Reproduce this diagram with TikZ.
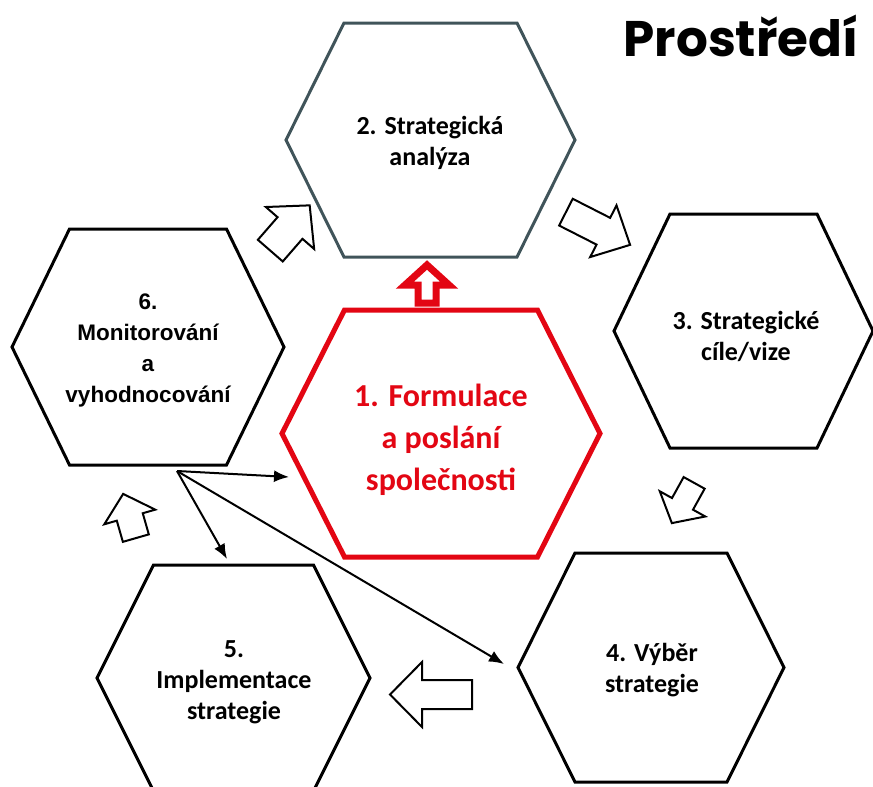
\documentclass[tikz,border=0pt]{standalone}
\usepackage{fontspec}
\setmainfont{Carlito}
\newfontfamily\arialfont{Liberation Sans}
\newfontfamily\prostfont{Poppins}
\usetikzlibrary{arrows.meta}
\definecolor{slate}{RGB}{64,84,90}
\definecolor{cred}{RGB}{227,6,19}
\tikzset{
    pics/hexa/.style n args={3}{code={
        \draw[pic actions] (-#1,0) -- (-#2,-#3) -- (#2,-#3) -- (#1,0) -- (#2,#3) -- (-#2,#3) -- cycle;
    }},
    pics/barrow/.style n args={4}{code={
        \draw[pic actions] ({-#1/2},{-#3/2}) -- ({#1/2-#4},{-#3/2}) -- ({#1/2-#4},{-#2/2})
            -- ({#1/2},0) -- ({#1/2-#4},{#2/2}) -- ({#1/2-#4},{#3/2}) -- ({-#1/2},{#3/2}) -- cycle;
    }},
    hexline/.style={draw=black, line width=3pt, line join=miter, fill=white},
    hexred/.style={draw=cred, line width=5pt, line join=miter, fill=white},
    blockarr/.style={draw=black, line width=2pt, fill=white, line join=miter},
    lbl/.style={font=\bfseries\fontsize{26}{31}\selectfont, align=center, inner sep=0pt},
    thin/.style={line width=2pt, -{Latex[length=15pt,width=12pt]}}
}
\begin{document}
\begin{tikzpicture}[x=1pt,y=-1pt]
    \useasboundingbox (0,0) rectangle (873,787);
    \clip (0,0) rectangle (873,787);

    % hexagons
    \pic[hexline, draw=slate] at (430.5,140) {hexa={144.5}{86.5}{117}};
    \pic[hexline] at (743.5,331) {hexa={129.5}{73.5}{117}};
    \pic[hexline] at (651,667.5) {hexa={133}{76}{114.5}};
    \pic[hexline] at (233.5,678) {hexa={136.5}{80}{113}};
    \pic[hexline] at (148,347) {hexa={136}{78.5}{118}};
    \pic[hexred] at (441,433.5) {hexa={159}{96.5}{123.5}};

    \node[lbl] (h2) at (430,143) {2. Strategická\\analýza};
    \node[lbl] (h3) at (746,336) {3. Strategické\\cíle/vize};
    \node[lbl] (h4) at (652,670) {4. Výběr\\strategie};
    \node[lbl] (h5) at (234,682) {5.\\Implementace\\strategie};
    \node[lbl, font=\arialfont\bfseries\fontsize{22.5}{31}\selectfont] (h6) at (148,350)
        {6.\\Monitorování\\a\\vyhodnocování};
    \node[lbl, text=cred, font=\bfseries\fontsize{32}{42}\selectfont] (h1) at (441,440)
        {1. Formulace\\a poslání\\společnosti};
    \node[inner sep=0pt, font=\prostfont\bfseries\fontsize{50}{55}\selectfont] (env) at (741,36) {Prostředí};

    % block arrows
    \pic[blockarr, rotate=49] at (290,228) {barrow={60}{64}{33}{30}};
    \pic[blockarr, rotate=-27] at (598,228.5) {barrow={72}{58}{30}{30}};
    \pic[blockarr, rotate=-119] at (683,503) {barrow={46}{52}{24}{22}};
    \pic[blockarr, rotate=180] at (431,694.5) {barrow={82}{65}{29}{32}};
    \pic[blockarr, rotate=106] at (129.5,516) {barrow={46}{53}{27}{24}};
    \pic[blockarr, draw=cred, line width=7pt, rotate=90] at (427,284) {barrow={38}{44}{18}{20}};

    % thin arrows
    \coordinate (src) at (177,471);
    \coordinate (h1in) at (289,477);
    \coordinate (h5in) at (227,559);
    \coordinate (h4in) at (504,664);
    \draw[thin] (src) -- (h1in);
    \draw[thin] (src) -- (h5in);
    \draw[thin] (src) -- (h4in);
\end{tikzpicture}
\end{document}
